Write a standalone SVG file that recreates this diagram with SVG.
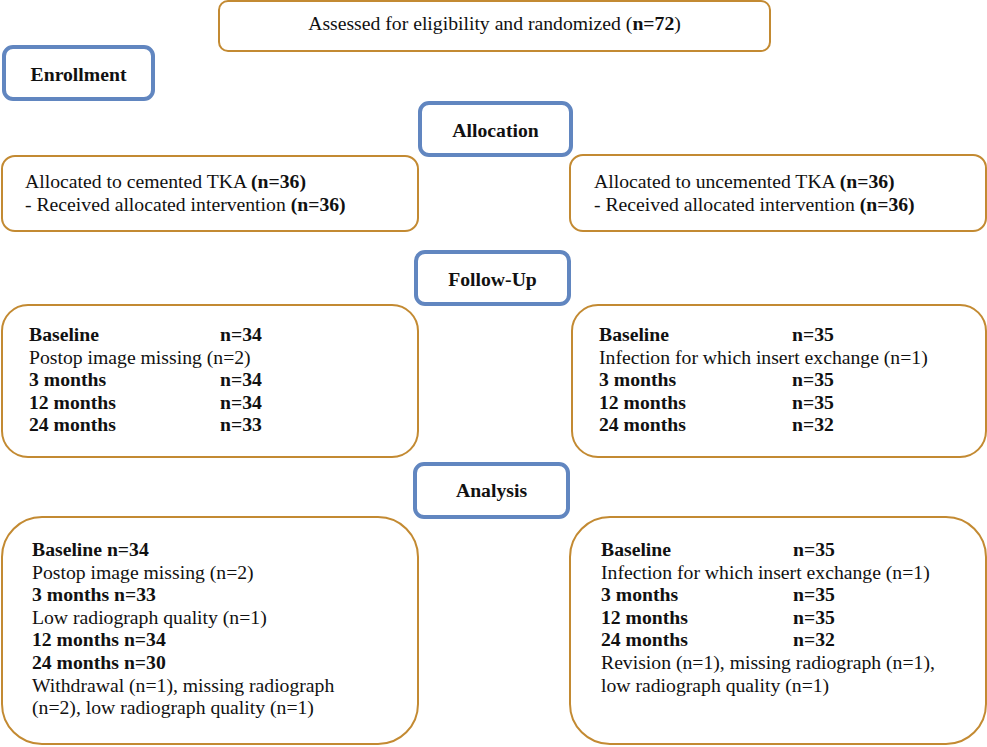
<svg xmlns="http://www.w3.org/2000/svg" width="987" height="747" viewBox="0 0 987 747">
<style>
.box{fill:#fff;stroke:#C38A32;stroke-width:2}
.hdr{fill:#fff;stroke:#6186C0;stroke-width:4}
text{font-family:"Liberation Serif","Times New Roman",serif;font-size:19.7px;fill:#111}
.b{font-weight:bold}
.c{text-anchor:middle}
</style>
<rect width="987" height="747" fill="#fff"/>
<g id="assessed">
<rect class="box" x="219" y="1" width="551" height="50" rx="9"/>
<text class="c" x="494.5" y="30">Assessed for eligibility and randomized (<tspan class="b">n=72</tspan>)</text>
</g>
<g id="enrollment">
<rect class="hdr" x="4" y="47" width="149" height="52" rx="9"/>
<text class="c b" x="78.5" y="81">Enrollment</text>
</g>
<g id="allocation">
<rect class="hdr" x="420" y="103" width="151" height="52" rx="9"/>
<text class="c b" x="495.5" y="137">Allocation</text>
</g>
<g id="alloc-cemented">
<rect class="box" x="2" y="156" width="416" height="75" rx="13"/>
<text x="25" y="188">Allocated to cemented TKA <tspan class="b">(n=36)</tspan></text>
<text x="25" y="211">- Received allocated intervention <tspan class="b">(n=36)</tspan></text>
</g>
<g id="alloc-uncemented">
<rect class="box" x="570" y="155" width="416" height="76" rx="13"/>
<text x="594" y="188">Allocated to uncemented TKA <tspan class="b">(n=36)</tspan></text>
<text x="594" y="211">- Received allocated intervention <tspan class="b">(n=36)</tspan></text>
</g>
<g id="followup">
<rect class="hdr" x="416" y="252" width="153" height="52" rx="9"/>
<text class="c b" x="492.5" y="286">Follow-Up</text>
</g>
<g id="followup-cemented">
<rect class="box" x="2" y="305" width="416" height="152" rx="26"/>
<text class="b" x="29" y="341">Baseline</text><text class="b" x="220" y="341">n=34</text>
<text x="29" y="363.5">Postop image missing (n=2)</text>
<text class="b" x="29" y="386">3 months</text><text class="b" x="220" y="386">n=34</text>
<text class="b" x="29" y="408.5">12 months</text><text class="b" x="220" y="408.5">n=34</text>
<text class="b" x="29" y="431">24 months</text><text class="b" x="220" y="431">n=33</text>
</g>
<g id="followup-uncemented">
<rect class="box" x="572" y="305" width="414" height="152" rx="26"/>
<text class="b" x="599" y="341">Baseline</text><text class="b" x="792" y="341">n=35</text>
<text x="599" y="363.5">Infection for which insert exchange (n=1)</text>
<text class="b" x="599" y="386">3 months</text><text class="b" x="792" y="386">n=35</text>
<text class="b" x="599" y="408.5">12 months</text><text class="b" x="792" y="408.5">n=35</text>
<text class="b" x="599" y="431">24 months</text><text class="b" x="792" y="431">n=32</text>
</g>
<g id="analysis">
<rect class="hdr" x="415" y="464" width="153" height="53" rx="9"/>
<text class="c b" x="491.5" y="497">Analysis</text>
</g>
<g id="analysis-cemented">
<rect class="box" x="2" y="517" width="416" height="227" rx="40"/>
<text class="b" x="32" y="556">Baseline n=34</text>
<text x="32" y="578.6">Postop image missing (n=2)</text>
<text class="b" x="32" y="601.2">3 months n=33</text>
<text x="32" y="623.8">Low radiograph quality (n=1)</text>
<text class="b" x="32" y="646.4">12 months n=34</text>
<text class="b" x="32" y="669">24 months n=30</text>
<text x="32" y="691.6">Withdrawal (n=1), missing radiograph</text>
<text x="32" y="714.2">(n=2), low radiograph quality (n=1)</text>
</g>
<g id="analysis-uncemented">
<rect class="box" x="570" y="517" width="416" height="227" rx="40"/>
<text class="b" x="601" y="556">Baseline</text><text class="b" x="793" y="556">n=35</text>
<text x="601" y="578.6">Infection for which insert exchange (n=1)</text>
<text class="b" x="601" y="601.2">3 months</text><text class="b" x="793" y="601.2">n=35</text>
<text class="b" x="601" y="623.8">12 months</text><text class="b" x="793" y="623.8">n=35</text>
<text class="b" x="601" y="646.4">24 months</text><text class="b" x="793" y="646.4">n=32</text>
<text x="601" y="669">Revision (n=1), missing radiograph (n=1),</text>
<text x="601" y="691.6">low radiograph quality (n=1)</text>
</g>
<g id="connectors"></g>
</svg>
